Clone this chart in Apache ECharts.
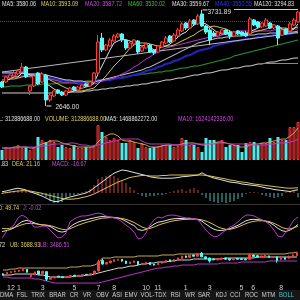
<!DOCTYPE html>
<html><head><meta charset="utf-8">
<script src="https://cdn.jsdelivr.net/npm/echarts@6/dist/echarts.min.js"></script>
<style>html,body{margin:0;padding:0;background:#000;}#c{width:300px;height:300px;}</style>
</head><body><div id="c"></div>
<script>
// ---- candles [open, close, low, high] ----
const candles = [
[2917,2861,2849,2929],[2917,2974,2906,2985],[2962,2996,2951,3008],[2985,3019,2974,3042],[3008,3042,2996,3053],
[3030,3087,3019,3132],[3087,2974,2962,3098],[2816,2872,2770,2883],[2872,2985,2861,2996],[3019,2895,2883,3030],
[2917,3008,2906,3030],[2996,2714,2646,3008],[2714,2770,2691,2782],[2759,2816,2748,2827],[2827,2793,2782,2838],
[2804,2770,2759,2816],[2770,2816,2759,2827],[2816,2849,2804,2861],[2861,2827,2816,2872],[2827,2861,2816,2872],
[2849,2883,2838,2895],[2895,2872,2861,2906],[2872,2917,2861,2929],[2917,3019,2906,3030],[3019,3369,3008,3448],
[3414,3279,3256,3471],[3279,3335,3268,3347],[3324,3392,3313,3414],[3381,3437,3369,3460],[3426,3460,3414,3471],
[3460,3392,3369,3471],[3392,3301,3279,3403],[3301,3358,3290,3369],[3347,3392,3335,3403],[3381,3256,3234,3392],
[3268,3313,3256,3324],[3301,3347,3290,3358],[3335,3256,3245,3347],[3279,3245,3222,3290],[3256,3324,3245,3335],
[3313,3369,3301,3381],[3358,3414,3347,3437],[3437,3369,3358,3448],[3381,3448,3369,3471],[3437,3505,3426,3527],
[3494,3573,3482,3595],[3584,3527,3505,3595],[3527,3607,3516,3629],[3618,3573,3561,3629],[3573,3663,3561,3686],
[3686,3550,3539,3731.89],[3550,3482,3460,3561],[3505,3392,3335,3527],[3471,3437,3426,3494],[3437,3482,3426,3494],
[3471,3505,3460,3516],[3505,3460,3448,3516],[3482,3437,3403,3505],[3437,3482,3426,3494],[3494,3460,3448,3505],
[3482,3448,3437,3494],[3471,3437,3426,3494],[3460,3629,3448,3652],[3618,3561,3550,3629],[3595,3539,3527,3607],
[3539,3584,3527,3595],[3550,3618,3539,3640],[3584,3527,3516,3595],[3527,3561,3516,3573],[3550,3414,3335,3561],
[3448,3505,3437,3516],[3516,3460,3448,3527],[3494,3573,3482,3595],[3561,3618,3550,3640],[3595,3708,3584,3720]
];
const ma5 = [2917,2929,2951,2974,2974,3019,3019,2996,2996,2962,2974,2895,2872,2838,2816,2770,2793,2804,2816,2827,2849,2861,2872,2906,3008,3098,3188,3279,3358,3381,3403,3392,3381,3358,3335,3324,3335,3313,3279,3290,3313,3324,3347,3381,3426,3460,3482,3527,3561,3584,3584,3573,3539,3505,3471,3460,3460,3460,3471,3471,3460,3460,3494,3505,3527,3550,3584,3561,3561,3539,3516,3494,3494,3516,3573];
const ma10 = [2940,2940,2951,2951,2962,2974,2985,2985,2985,2985,2996,2962,2940,2917,2895,2872,2849,2838,2827,2816,2816,2827,2838,2849,2895,2940,2985,3042,3098,3143,3188,3245,3301,3335,3358,3358,3358,3347,3335,3324,3324,3324,3324,3335,3358,3381,3403,3426,3448,3482,3505,3527,3539,3550,3539,3527,3516,3494,3471,3471,3471,3460,3471,3482,3494,3505,3516,3527,3539,3539,3527,3527,3516,3527,3539];
const ma20 = [2985,2985,2985,2985,2985,2985,2985,2974,2974,2974,2974,2962,2951,2940,2929,2917,2906,2906,2906,2895,2895,2895,2895,2895,2906,2929,2940,2951,2962,2985,3008,3030,3053,3087,3109,3143,3177,3200,3234,3256,3279,3301,3313,3324,3335,3347,3358,3369,3381,3392,3403,3414,3426,3426,3437,3448,3460,3471,3482,3494,3494,3494,3494,3494,3494,3494,3494,3494,3505,3505,3505,3505,3505,3516,3516];
const ma30 = [3019,3019,3019,3019,3019,3019,3008,3008,3008,3008,3008,2996,2985,2974,2962,2951,2940,2940,2929,2929,2929,2917,2917,2917,2929,2940,2951,2962,2974,2985,2996,3008,3019,3030,3042,3053,3075,3087,3109,3132,3155,3177,3200,3222,3245,3268,3290,3313,3335,3358,3369,3381,3392,3403,3414,3414,3426,3426,3437,3437,3437,3448,3448,3448,3460,3460,3460,3471,3471,3471,3471,3482,3482,3482,3494];
const ma40 = [3030,3030,3030,3019,3019,3019,3008,3008,2996,2996,2985,2974,2962,2951,2940,2940,2929,2929,2917,2917,2917,2917,2917,2917,2929,2929,2940,2940,2951,2962,2962,2974,2985,2996,3008,3019,3042,3053,3064,3087,3098,3121,3132,3155,3166,3188,3211,3222,3245,3268,3279,3290,3301,3324,3335,3347,3358,3369,3381,3381,3392,3403,3403,3414,3426,3426,3437,3437,3448,3448,3448,3460,3460,3471,3471];
const ma60 = [2861,2861,2872,2872,2872,2872,2883,2883,2883,2883,2895,2895,2895,2895,2906,2906,2906,2917,2917,2917,2917,2929,2929,2929,2940,2940,2951,2951,2962,2962,2974,2974,2985,2996,2996,3008,3008,3019,3019,3030,3030,3042,3042,3053,3064,3075,3075,3087,3098,3098,3109,3121,3132,3143,3155,3166,3177,3188,3211,3222,3234,3245,3256,3268,3279,3290,3301,3313,3324,3335,3347,3358,3369,3381,3392];
const ma120 = [2793,2793,2793,2793,2793,2793,2793,2793,2793,2793,2793,2793,2793,2793,2793,2793,2793,2804,2804,2804,2804,2816,2816,2827,2827,2838,2838,2849,2849,2861,2861,2872,2872,2883,2883,2895,2895,2906,2917,2917,2929,2940,2940,2951,2962,2962,2974,2985,2996,2996,3008,3019,3019,3030,3042,3053,3053,3064,3075,3075,3087,3098,3098,3109,3121,3121,3132,3143,3143,3155,3166,3166,3177,3188,3188];
// ---- volume (x1e8) ----
const volume = [10,13,12,13,15,12,13,10,13,23,20,18,20,18,13,15,13,12,15,12,12,13,13,15,35,28,23,20,22,20,17,17,20,18,12,17,13,12,13,14,15,15,15,13,14,22,20,15,15,13,8,22,20,20,18,20,13,15,15,15,8,17,18,18,15,17,17,22,18,23,20,20,33,33,38];
const volMa5 = [12,12,12,13,13,13,13,12,12,14,16,17,19,19,19,17,16,15,14,13,13,13,13,13,18,22,24,26,26,24,20,19,19,18,17,16,15,13,13,13,14,15,15,15,15,16,17,17,17,16,15,15,16,17,18,18,17,16,15,13,13,13,15,16,16,17,17,18,19,20,21,21,24,27,32];
const volMa10 = [12,12,12,12,12,13,13,13,13,13,14,14,15,16,16,16,16,17,17,16,15,15,14,14,15,16,17,18,19,20,21,21,21,21,21,19,17,16,16,16,16,16,16,15,15,15,15,15,16,16,16,16,16,16,17,17,17,16,16,16,16,16,15,15,15,15,15,16,16,17,17,17,18,19,21];
// ---- MACD ----
const dif = [5,8,12,16,19,16,12,5,0,-6,-12,-20,-28,-34,-34,-28,-21,-16,-12,-8,-4,0,8,20,32,44,56,68,79,86,92,90,86,82,78,74,70,65,62,60,59,59,59,60,62,65,66,68,70,72,81,72,65,60,56,52,48,44,42,40,36,34,32,30,28,24,20,18,14,12,10,8,6,10,13];
const dea = [-1,1,4,6,8,9,9,8,5,2,-1,-6,-10,-14,-18,-22,-24,-25,-24,-22,-18,-15,-10,-4,4,12,20,28,36,44,50,56,62,65,68,70,70,68,68,68,70,70,72,72,72,72,72,72,72,72,72,70,68,65,62,59,56,52,50,46,44,42,39,36,34,32,30,28,26,24,22,20,19,20,21];
const macd = [-4,4,4,8,12,16,12,4,-4,-8,-8,-16,-32,-40,-40,-36,-24,-12,-8,-4,4,8,16,32,56,64,68,72,68,60,48,40,24,12,-4,-12,-16,-12,-12,-8,-8,-4,4,8,12,16,8,16,20,12,-8,-20,-32,-36,-40,-36,-40,-36,-32,-24,-16,-4,4,4,2,-8,-12,-16,-20,-16,-12,4,8,8,-17];
// ---- KDJ ----
const kdjK = [34,37,41,47,59,69,73,71,65,60,57,56,52,44,35,32,35,50,60,67,72,75,79,82,85,87,86,85,84,82,77,70,62,55,41,38,41,50,60,67,69,73,77,79,80,80,79,79,78,77,70,60,50,42,38,38,40,44,50,56,64,72,76,77,76,74,70,65,56,45,37,34,39,48,59];
const kdjD = [45,44,45,48,53,58,62,63,62,60,58,57,55,51,46,42,40,44,50,56,61,66,70,74,78,81,82,83,83,82,80,77,72,66,58,50,45,45,50,56,61,65,69,72,74,76,77,78,78,77,75,71,65,58,50,45,42,42,45,50,56,62,67,70,72,72,71,68,63,56,48,44,43,47,53];
const kdjJ = [11,32,46,57,82,92,85,68,50,50,53,53,39,25,11,15,29,68,78,85,89,89,92,96,99,96,89,85,82,78,68,57,46,32,8,11,29,57,75,85,82,89,92,92,89,85,82,82,78,75,57,39,25,15,18,29,39,50,57,68,82,92,92,89,82,75,68,57,39,18,15,32,53,75,85];
// ---- BOLL ----
const bollUB = [3057,3057,3094,3094,3132,3132,3132,3132,3132,3132,3132,3132,3132,3132,3132,3132,3132,3169,3169,3169,3207,3207,3207,3244,3319,3506,3506,3506,3544,3544,3544,3544,3544,3544,3581,3581,3581,3581,3581,3581,3619,3619,3619,3619,3656,3656,3656,3656,3656,3656,3656,3656,3656,3656,3656,3656,3656,3656,3656,3656,3656,3656,3656,3656,3656,3656,3656,3656,3656,3656,3656,3656,3694,3694,3731];
const bollMID = [2870,2870,2870,2907,2907,2907,2907,2907,2907,2870,2870,2832,2795,2795,2795,2795,2795,2795,2832,2832,2832,2870,2870,2907,2945,2982,3020,3057,3094,3132,3132,3169,3207,3207,3244,3282,3282,3319,3319,3357,3357,3357,3394,3394,3432,3432,3432,3432,3469,3469,3469,3469,3469,3469,3469,3469,3506,3506,3506,3506,3506,3506,3506,3506,3544,3544,3544,3544,3544,3544,3544,3544,3544,3544,3544];
const bollLB = [2795,2795,2757,2757,2757,2757,2757,2757,2720,2720,2683,2645,2608,2570,2570,2570,2570,2570,2570,2570,2570,2570,2570,2570,2570,2608,2645,2683,2720,2757,2795,2832,2870,2907,2945,2982,3020,3057,3094,3132,3132,3169,3169,3207,3207,3244,3244,3244,3244,3282,3282,3282,3282,3282,3282,3319,3319,3319,3319,3319,3357,3357,3357,3357,3357,3357,3357,3394,3394,3394,3394,3394,3394,3394,3394];
// ---- axis tick labels (months) ----
const monthTickIdx = [2,4,10,18,24,28,36,39,46,52,60,63,70];
const monthTickText = ['12','1','3','5','7','8','10','11','1','3','5','6','8'];
const tabNames = ['DMA','FSL','TRIX','BRAR','CR','VR','OBV','ASI','EMV','VOL-TDX','RSI','WR','SAR','KDJ','CCI','ROC','MTM','BOLL'];
const tabCenters = [6.5,22,38,57.5,74,87,102.5,117,131,153.5,175.5,190,204,221,235,251.5,268.5,286.5];

const cats = candles.map((_, i) => String(i));
const FONT = '"Liberation Sans", Arial, sans-serif';
const UP = '#ff3c3c', DOWN = '#54fcfc';

function T(x, y, s, c, align, size, sx) {
  return { type: 'text', x: x, y: y, scaleX: sx || 0.78, scaleY: 1, silent: true, z: 100,
    style: { text: s, fill: c, font: (size || 7) + 'px ' + FONT, textAlign: align || 'left', align: align || 'left', textVerticalAlign: 'middle', verticalAlign: 'middle' } };
}
function L(x1, y1, x2, y2, c) {
  return { type: 'line', silent: true, z: 90, shape: { x1, y1, x2, y2 }, style: { stroke: c, lineWidth: 1 } };
}
function line(name, data, color, xi, w) {
  return { name, type: 'line', data, xAxisIndex: xi, yAxisIndex: xi, showSymbol: false, symbol: 'none', silent: true,
    lineStyle: { color, width: w || 1 }, z: 3 };
}

const graphic = [
  T(2, 4.5, 'MA5: 3580.06', '#e0e0e0'),
  T(41, 4.5, 'MA10: 3593.09', '#e0d060'),
  T(85, 4.5, 'MA20: 3587.72', '#d048e0'),
  T(128, 4.5, 'MA60: 3530.02', '#38c038'),
  T(172, 4.5, 'MA30: 3559.67', '#e0e0e0'),
  T(215, 4.5, 'MA40: 3550.55', '#2838f0'),
  T(254, 4.5, 'MA120: 3294.83', '#e0e0e0'),
  T(40, 119.5, 'VOL: 312886688.00', '#e0e0e0', 'right'),
  T(45, 119.5, 'VOLUME: 312886688.00', '#e0d060'),
  T(105, 119.5, 'MA5: 1468862272.00', '#e0e0e0'),
  T(178, 119.5, 'MA10: 1624142336.00', '#d048e0'),
  T(8, 164.5, 'DIF: 12.83', '#e0e0e0', 'right'),
  T(12, 164.5, 'DEA: 21.16', '#e0d060'),
  T(52, 164.5, 'MACD: -16.67', '#d048e0'),
  T(19, 208.5, 'D: 49.74', '#e0d060', 'right'),
  T(23, 208.5, 'J: -0.02', '#d048e0'),
  T(5, 245, 'MID: 3587.72', '#e0e0e0', 'right'),
  T(10, 245, 'UB: 3688.93', '#e0d060'),
  T(40, 245, 'LB: 3486.51', '#d048e0'),
  L(0, 204.5, 300, 204.5, '#333333'),
  { type: 'rect', silent: true, z: 80, shape: { x: 0, y: 290, width: 300, height: 10 }, style: { fill: '#161616' } }
];
tabNames.forEach((n, i) => {
  graphic.push(T(tabCenters[i], 295.5, n, n === 'BOLL' ? '#40c8d0' : '#d0d0d0', 'center', 7, 0.85));
});

const xAxes = [0,1,2,3,4].map(k => ({
  type: 'category', gridIndex: k, data: cats, boundaryGap: true,
  axisLine: { show: false }, axisTick: { show: false }, splitLine: { show: false },
  axisLabel: k === 4 ? {
    show: true, interval: 0, margin: 1, fontSize: 7, fontFamily: FONT, color: '#d0d0d0', hideOverlap: false,
    formatter: (v, i) => { const p = monthTickIdx.indexOf(Number(v)); return p >= 0 ? monthTickText[p] : ''; }
  } : { show: false }
}));
const yr = [[2578.2, 3753.4], [0, 40], [-40, 100], [-10, 110], [2534, 3806]];
const yAxes = yr.map((r, k) => ({ type: 'value', gridIndex: k, min: r[0], max: r[1], show: false, splitLine: { show: false } }));

const volData = volume.map((v, i) => {
  const up = candles[i][1] >= candles[i][0];
  return { value: v, itemStyle: up ? { color: '#6a1212', borderColor: '#e83434', borderWidth: 1 } : { color: '#54e8e8', borderColor: '#54e8e8', borderWidth: 0 } };
});
const macdData = macd.map(v => ({ value: v, itemStyle: { color: v >= 0 ? '#d04040' : '#48c0c0' } }));

const option = {
  backgroundColor: '#000',
  animation: false,
  grid: [
    { left: 0, right: 0, top: 8, height: 104 },
    { left: 0, right: 0, top: 120, height: 40 },
    { left: 0, right: 0, top: 168, height: 35 },
    { left: 0, right: 0, top: 210, height: 34 },
    { left: 0, right: 0, top: 250, height: 34 }
  ],
  xAxis: xAxes,
  yAxis: yAxes,
  graphic: graphic,
  series: [
    line('MA120', ma120, '#d0d0d0', 0),
    line('MA60', ma60, '#2e9e2e', 0),
    line('MA40', ma40, '#2424b8', 0, 2),
    line('MA30', ma30, '#c8c8e0', 0),
    line('MA20', ma20, '#b838c8', 0),
    line('MA10', ma10, '#d8c050', 0),
    line('MA5', ma5, '#e0e0e0', 0),
    {
      name: 'K', type: 'candlestick', xAxisIndex: 0, yAxisIndex: 0, data: candles, barWidth: 3, z: 5, silent: true,
      itemStyle: { color: '#300606', color0: DOWN, borderColor: UP, borderColor0: DOWN, borderWidth: 1 },
      markPoint: {
        silent: true, animation: false, symbol: 'rect', symbolSize: [5, 1], symbolOffset: [3, 0],
        itemStyle: { color: '#e0e0e0' },
        label: { show: true, position: 'right', distance: 1, color: '#e0e0e0', fontSize: 6.5, fontFamily: FONT,
          formatter: p => Number(p.value).toFixed(2) },
        data: [
          { type: 'max', valueDim: 'highest', label: { offset: [-1, 2] } },
          { type: 'min', valueDim: 'lowest', label: { offset: [3, 1] } }
        ]
      },
      markLine: {
        silent: true, animation: false, symbol: ['none', 'none'], label: { show: false },
        lineStyle: { color: '#b8b8b8', width: 1, type: 'solid' },
        data: [
          [{ coord: [0, 3030] }, { coord: [74, 3477] }],
          [{ coord: [58, 3737], lineStyle: { color: '#d0d0d0', type: 'solid' } }, { coord: [74, 3737] }],
          [{ coord: [65, 3132], lineStyle: { color: '#a08850', type: 'solid' } }, { coord: [74, 3132] }],
          { yAxis: 3607, lineStyle: { color: '#555', type: 'dotted' } }
        ]
      }
    },
    { name: 'VOL', type: 'bar', xAxisIndex: 1, yAxisIndex: 1, data: volData, barWidth: 3, silent: true },
    line('VMA5', volMa5, '#c8a060', 1),
    line('VMA10', volMa10, '#b838c8', 1),
    { name: 'MACD', type: 'bar', xAxisIndex: 2, yAxisIndex: 2, data: macdData, barWidth: 1, silent: true },
    line('DIF', dif, '#e0e0e0', 2),
    line('DEA', dea, '#d8c050', 2),
    line('Kl', kdjK, '#e0e0e0', 3),
    line('Dl', kdjD, '#d8c050', 3),
    line('Jl', kdjJ, '#b838c8', 3),
    {
      name: 'BK', type: 'candlestick', xAxisIndex: 4, yAxisIndex: 4, data: candles, barWidth: 2, z: 5, silent: true,
      itemStyle: { color: UP, color0: DOWN, borderColor: UP, borderColor0: DOWN, borderWidth: 1 }
    },
    line('UB', bollUB, '#c8a850', 4),
    line('MID', bollMID, '#d8d8d8', 4),
    line('LB', bollLB, '#b838c8', 4)
  ]
};
const chart = echarts.init(document.getElementById('c'), null, { renderer: 'canvas' });
chart.setOption(option);
</script>
</body></html>
